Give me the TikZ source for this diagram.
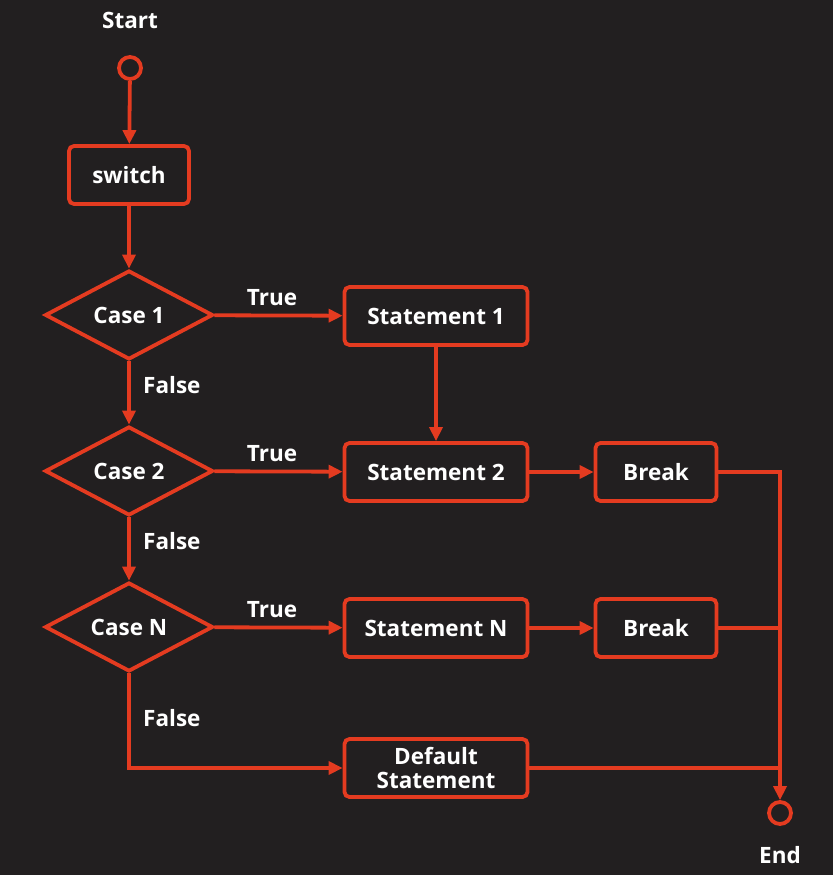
\documentclass[tikz,border=0pt]{standalone}
\usepackage{fontspec}
\setmainfont{Open Sans}
\usetikzlibrary{arrows.meta,shapes.geometric}
\definecolor{bg}{HTML}{221F20}
\definecolor{ln}{HTML}{E43B20}
\begin{document}
\begin{tikzpicture}[x=1pt,y=-1pt,
  every node/.style={text=white,font=\fontsize{22.5}{23}\selectfont\bfseries},
  conn/.style={draw=ln,line width=3.8pt},
  arr/.style={conn,-{Triangle[length=14pt,width=13pt]}},
  box/.style={draw=ln,line width=3.8pt,rounded corners=5pt,fill=bg,minimum height=58pt,inner sep=0pt,align=center},
  dec/.style={draw=ln,line width=3.8pt,diamond,aspect=1.89,minimum width=168pt,minimum height=89pt,inner sep=0pt,fill=bg},
  term/.style={draw=ln,line width=3.8pt,circle,minimum size=22pt,inner sep=0pt},
  lbl/.style={}]
\fill[bg] (0,0) rectangle (833,875);
\useasboundingbox (0,0) rectangle (833,875);
\node[lbl] (startl) at (130,20) {Start};
\node[term] (start) at (130,68) {};
\node[box,minimum width=120pt] (sw) at (129,175) {switch};
\node[dec] (c1) at (129,315) {Case 1};
\node[dec] (c2) at (129,471) {Case 2};
\node[dec] (cn) at (129,627) {Case N};
\node[box,minimum width=183pt] (s1) at (436,316) {Statement 1};
\node[box,minimum width=183pt] (s2) at (436,472) {Statement 2};
\node[box,minimum width=183pt] (sn) at (436,628) {Statement N};
\node[box,minimum width=183pt,font=\fontsize{22.5}{23.5}\selectfont\bfseries] (sd) at (436,768) {Default\\Statement};
\node[box,minimum width=121pt] (b1) at (656,472) {Break};
\node[box,minimum width=121pt] (b2) at (656,628) {Break};
\node[term] (end) at (780,813) {};
\node[lbl] (endl) at (780,855) {End};
\coordinate (j1) at (780,472);
\coordinate (j2) at (780,628);
\coordinate (j3) at (780,768);
\coordinate (k) at (129,768);
\draw[arr] (start) -- (sw);
\draw[arr] (sw) -- (c1);
\draw[arr] (c1) -- node[above=5pt,pos=0.45] {True} (s1);
\draw[arr] (c2) -- node[above=5pt,pos=0.45] {True} (s2);
\draw[arr] (cn) -- node[above=5pt,pos=0.45] {True} (sn);
\draw[arr] (c1) -- node[right=9pt,pos=0.38] {False} (c2);
\draw[arr] (c2) -- node[right=9pt,pos=0.38] {False} (cn);
\draw[arr] (cn) -- node[right=9pt,pos=0.47] {False} (k) -- (sd);
\draw[arr] (s1) -- (s2);
\draw[arr] (s2) -- (b1);
\draw[arr] (sn) -- (b2);
\draw[conn] (b1) -- (j1) -- (j3);
\draw[conn] (b2) -- (j2);
\draw[conn] (sd) -- (j3);
\draw[arr] (j3) -- (end);
\end{tikzpicture}
\end{document}
